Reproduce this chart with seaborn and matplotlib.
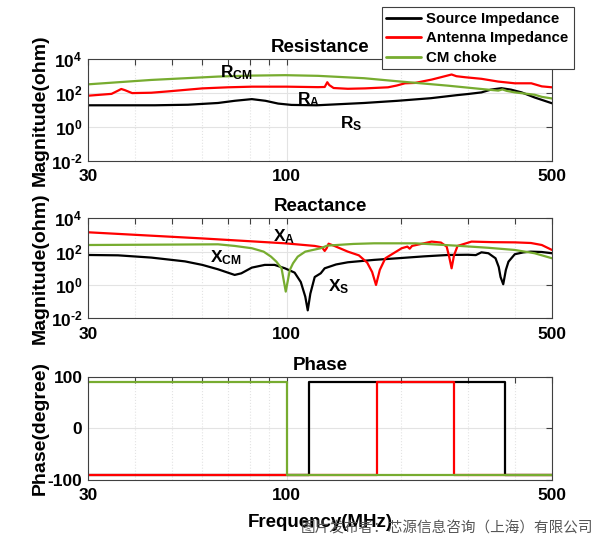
import matplotlib
matplotlib.use('Agg')
import matplotlib.pyplot as plt
import seaborn as sns
from matplotlib.lines import Line2D
from matplotlib.ticker import FixedLocator, NullFormatter, NullLocator

# ---- data (frequency in MHz) ----
# Resistance
rs_f = [30, 45, 55, 66, 73, 81, 88, 95, 103, 120, 160, 196, 240, 280, 300, 326, 345, 368, 390, 416, 450, 500]
rs_v = [19, 19, 20.5, 26, 35, 44, 35, 24, 20, 19, 26, 35, 50, 75, 88, 110, 160, 195, 160, 110, 55, 25]

ra_f = [30, 34.6, 36, 36.7, 37.5, 39.2, 44, 48.7, 55, 60, 70, 81, 100, 121, 126, 128, 129.5, 133, 145, 161,
        185, 195, 205, 218, 241, 255, 272, 280, 295, 326, 361, 399, 441, 470, 500]
ra_v = [70, 90, 140, 175, 150, 100, 105, 126, 160, 190, 220, 240, 240, 225, 230, 440, 300, 200, 180, 190,
        220, 280, 380, 400, 630, 870, 1260, 1000, 870, 700, 480, 380, 380, 250, 220]

rcm_f = [30, 44, 66, 80, 99, 121, 160, 196, 266, 330, 361, 370, 380, 399, 450, 470, 500]
rcm_v = [330, 600, 950, 1080, 1150, 1050, 760, 500, 275, 170, 140, 165, 135, 110, 80, 60, 48]

# Reactance
xs_f = [30, 36, 44, 54, 60, 66, 73, 76, 81, 87.6, 93, 99, 105, 109, 112, 113.7, 115.5, 118.6, 123, 126, 135,
        145, 170, 196, 230, 266, 300, 315, 326, 340, 355, 362, 366, 372, 378, 384, 399, 420, 440, 470, 500]
xs_v = [63, 60, 44, 26, 16, 8.7, 4, 5, 11, 16, 16, 10, 5.5, 1.5, 0.2, 0.03, 0.3, 3, 5, 10, 17,
        23, 32, 40, 52, 63, 65, 62, 91, 80, 40, 12, 3, 1.1, 8, 25, 70, 90, 100, 95, 80]

xa_f = [30, 60, 99, 118.6, 124, 126, 127.5, 129, 133, 145, 155, 163, 168, 172, 176, 182, 201, 208, 211, 214,
        241, 255, 264, 268, 272, 276, 282, 307, 350, 399, 440, 470, 500]
xa_v = [1450, 620, 316, 220, 180, 110, 160, 300, 230, 100, 60, 22, 6, 1, 8, 40, 160, 200, 150, 220,
        400, 350, 200, 50, 10, 60, 220, 400, 370, 360, 330, 250, 126]

xcm_f = [30, 50, 66, 73, 81, 87, 91, 94, 97, 99.5, 102, 104, 107, 112, 123, 128, 150, 170, 218, 278, 340,
         399, 450, 500]
xcm_v = [250, 265, 275, 220, 160, 100, 50, 25, 10, 0.4, 8, 20, 50, 100, 160, 230, 290, 316, 316, 230, 170,
         126, 80, 40]

# Phase
ps_f = [30, 114.6, 114.6, 376, 376, 500]
ps_v = [-90, -90, 90, 90, -90, -90]
pa_f = [30, 173, 173, 276, 276, 500]
pa_v = [-90, -90, 90, 90, -90, -90]
pcm_f = [30, 100, 100, 500]
pcm_v = [90, 90, -90, -90]

labels = ['Source Impedance', 'Antenna Impedance', 'CM choke']
colors = ['black', '#ff0000', '#77ac30']

sns.set_theme(style='white')
plt.rcParams['font.family'] = ['Liberation Sans', 'DejaVu Sans']
plt.rcParams['font.weight'] = 'bold'
plt.rcParams['mathtext.fontset'] = 'custom'
plt.rcParams['mathtext.bf'] = 'Liberation Sans:bold'
plt.rcParams['mathtext.rm'] = 'Liberation Sans:bold'
plt.rcParams['mathtext.it'] = 'Liberation Sans:bold'
plt.rcParams['mathtext.default'] = 'bf'
for k in ['text.color', 'axes.labelcolor', 'axes.titlecolor', 'xtick.labelcolor', 'ytick.labelcolor']:
    plt.rcParams[k] = 'black'

fig = plt.figure(figsize=(6, 5.44), dpi=100)
ax1 = fig.add_axes([0.1467, 0.7046, 0.7733, 0.1864])
ax2 = fig.add_axes([0.1467, 0.4149, 0.7733, 0.1838])
ax3 = fig.add_axes([0.1467, 0.1176, 0.7733, 0.1899])

edge = '#404040'
lw = 1.6


def style(ax):
    ax.set_xscale('log')
    ax.set_xlim(30, 500)
    ax.xaxis.set_major_locator(FixedLocator([30, 100, 500]))
    ax.xaxis.set_minor_locator(FixedLocator([40, 50, 60, 70, 80, 90, 200, 300, 400]))
    ax.xaxis.set_minor_formatter(NullFormatter())
    ax.set_xticklabels(['30', '100', '500'])
    ax.tick_params(which='both', direction='in', top=True, right=True, length=4, width=0.8,
                   color=edge, labelsize=12.5, labelcolor='black')
    ax.tick_params(axis='x', pad=6)
    ax.tick_params(axis='y', pad=4)
    ax.grid(which='major', color='#e3e3e3', lw=0.8, ls='-')
    ax.grid(which='minor', axis='x', color='#e3e3e3', lw=0.8, ls=':')
    for s in ax.spines.values():
        s.set_color(edge)
        s.set_linewidth(0.8)
    ax.set_xlabel('')


def mag_axis(ax):
    ax.set_yscale('log')
    ax.set_ylim(1e-2, 1e4)
    ax.yaxis.set_major_locator(FixedLocator([1e-2, 1, 1e2, 1e4]))
    ax.yaxis.set_minor_locator(NullLocator())
    ax.set_yticklabels([r'$\mathbf{10^{\text{-}2}}$', r'$\mathbf{10^{0}}$', r'$\mathbf{10^{2}}$',
                        r'$\mathbf{10^{4}}$'], fontsize=12.5)
    ax.set_ylabel('Magnitude(ohm)', fontsize=14, fontweight='bold')
    ax.yaxis.set_label_coords(-0.085, 0.5)


panels = [
    (ax1, [(rs_f, rs_v), (ra_f, ra_v), (rcm_f, rcm_v)]),
    (ax2, [(xs_f, xs_v), (xa_f, xa_v), (xcm_f, xcm_v)]),
    (ax3, [(ps_f, ps_v), (pa_f, pa_v), (pcm_f, pcm_v)]),
]
for ax, series in panels:
    for (f, v), c in zip(series, colors):
        sns.lineplot(x=f, y=v, ax=ax, color=c, lw=lw, estimator=None, sort=False, legend=False)

for ax in (ax1, ax2, ax3):
    style(ax)
mag_axis(ax1)
mag_axis(ax2)

ax3.set_ylim(-100, 100)
ax3.yaxis.set_major_locator(FixedLocator([-100, 0, 100]))
ax3.yaxis.set_minor_locator(NullLocator())
ax3.set_yticklabels(['-100', '0', '100'])
ax3.set_ylabel('Phase(degree)', fontsize=14, fontweight='bold')
ax3.yaxis.set_label_coords(-0.085, 0.5)
ax3.set_xlabel('Frequency(MHz)', fontsize=13.5, fontweight='bold')
ax3.xaxis.set_label_coords(0.5, -0.33)

ax1.set_title('Resistance', fontsize=13.5, fontweight='bold', pad=5)
ax2.set_title('Reactance', fontsize=13.5, fontweight='bold', pad=5)
ax3.set_title('Phase', fontsize=13.5, fontweight='bold', pad=5)

# curve labels
ann = dict(fontsize=12.5, va='center', ha='left')
ax1.text(0.284, 0.87, r'$\mathbf{R_{CM}}$', transform=ax1.transAxes, **ann)
ax1.text(0.450, 0.60, r'$\mathbf{R_{A}}$', transform=ax1.transAxes, **ann)
ax1.text(0.543, 0.365, r'$\mathbf{R_{S}}$', transform=ax1.transAxes, **ann)
ax2.text(0.399, 0.815, r'$\mathbf{X_{A}}$', transform=ax2.transAxes, **ann)
ax2.text(0.263, 0.605, r'$\mathbf{X_{CM}}$', transform=ax2.transAxes, **ann)
ax2.text(0.517, 0.315, r'$\mathbf{X_{S}}$', transform=ax2.transAxes, **ann)

handles = [Line2D([0], [0], color=c, lw=2) for c in colors]
leg = fig.legend(handles, labels, loc='upper left',
                 bbox_to_anchor=(381.7 / 600, 1 - 71.7 / 544, 192.3 / 600, 64.4 / 544), mode='expand',
                 prop={'weight': 'bold', 'size': 10.8}, frameon=True, fancybox=False, framealpha=1,
                 edgecolor=edge, borderpad=0.3, handlelength=2.3, handletextpad=0.35,
                 labelspacing=0.37, borderaxespad=0)
leg.get_frame().set_linewidth(0.8)

fig.text(593 / 600, 1 - 528 / 544, '图片发布者：芯源信息咨询（上海）有限公司', ha='right', va='center',
         fontsize=10.5, color='#555555', fontweight='normal',
         family=['Noto Sans CJK SC', 'DejaVu Sans'])

fig.savefig('out.png', dpi=100)
